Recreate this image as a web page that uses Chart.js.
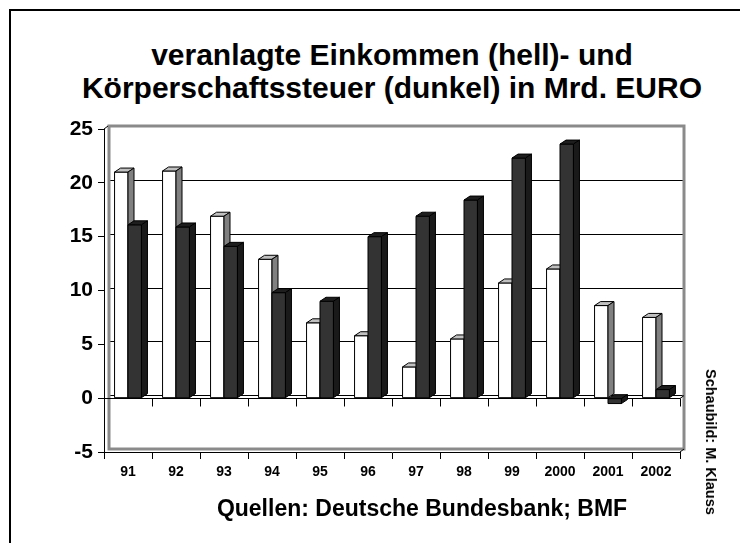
<!DOCTYPE html>
<html>
<head>
<meta charset="utf-8">
<script src="https://cdn.jsdelivr.net/npm/chart.js@4/dist/chart.umd.min.js"></script>
<style>
  body { margin: 0; background: #fff; }
  #wrap { position: relative; width: 740px; height: 543px; overflow: hidden; font-family: "Liberation Sans", Arial, sans-serif; }
  #frame { position: absolute; left: 9px; top: 9px; width: 760px; height: 560px; border-left: 2px solid #000; border-top: 2px solid #000; }
  #titel { position: absolute; left: 0; width: 784px; top: 38px; text-align: center; font-weight: bold; font-size: 30px; line-height: 33px; color: #000; }
  #quelle { position: absolute; left: 0; width: 844px; top: 495px; text-align: center; font-weight: bold; font-size: 23px; color: #000; }
  #autor { position: absolute; left: 711px; top: 442px; transform: translate(-50%, -50%) rotate(90deg); white-space: nowrap; font-weight: bold; font-size: 14.5px; color: #000; }
  canvas { position: absolute; left: 0; top: 0; }
</style>
</head>
<body>
<div id="wrap">
  <div id="frame"></div>
  <div id="titel">veranlagte Einkommen (hell)- und<br>Körperschaftssteuer (dunkel) in Mrd. EURO</div>
  <canvas id="chart" width="740" height="543"></canvas>
  <div id="quelle">Quellen: Deutsche Bundesbank; BMF</div>
  <div id="autor">Schaubild: M. Klauss</div>
</div>
<script>
// Daten (Mrd. EURO)
const jahre = ['91', '92', '93', '94', '95', '96', '97', '98', '99', '2000', '2001', '2002'];
const einkommensteuer = [21.0, 21.1, 16.9, 12.9, 7.0, 5.8, 2.9, 5.5, 10.7, 12.0, 8.6, 7.5];
const koerperschaftsteuer = [16.1, 15.9, 14.1, 9.8, 9.0, 15.0, 16.9, 18.4, 22.3, 23.6, -0.5, 0.8];
const yTicks = [-5, 0, 5, 10, 15, 20, 25];

const FONT = '"Liberation Sans", Arial, sans-serif';

// Farben der 3D-Flächen: [vorne, oben, seite]
const faces = [
    ['#ffffff', '#c0c0c0', '#808080'],
    ['#333333', '#1e1e1e', '#1a1a1a']
];

function drawBar3d(ctx, bar, col) {
    const dx = 6, dy = 4;
    const x1 = bar.x - bar.width / 2;
    const x2 = bar.x + bar.width / 2;
    const top = Math.min(bar.y, bar.base);
    const bottom = Math.max(bar.y, bar.base);
    // vorne
    ctx.fillStyle = col[0];
    ctx.fillRect(x1, top, x2 - x1, bottom - top);
    ctx.strokeRect(x1, top, x2 - x1, bottom - top);
    // oben
    ctx.fillStyle = col[1];
    ctx.beginPath();
    ctx.moveTo(x1, top);
    ctx.lineTo(x1 + dx, top - dy);
    ctx.lineTo(x2 + dx, top - dy);
    ctx.lineTo(x2, top);
    ctx.closePath();
    ctx.fill();
    ctx.stroke();
    // Seite
    ctx.fillStyle = col[2];
    ctx.beginPath();
    ctx.moveTo(x2, top);
    ctx.lineTo(x2 + dx, top - dy);
    ctx.lineTo(x2 + dx, bottom - dy);
    ctx.lineTo(x2, bottom);
    ctx.closePath();
    ctx.fill();
    ctx.stroke();
}

// Rückwand, Gitterlinien, Boden bei 0, 3D-Säulen
const wallPlugin = {
    id: 'wall3d',
    beforeDatasetsDraw(chart) {
        const ctx = chart.ctx;
        const a = chart.chartArea;
        const y = chart.scales.y;
        const x = chart.scales.x;
        const dx = 4, dy = -3;
        ctx.save();
        // Gitterlinien hinten
        ctx.strokeStyle = '#000';
        ctx.lineWidth = 1;
        yTicks.forEach(v => {
            if (v <= -5 || v >= 25) return;
            const py = Math.round(y.getPixelForValue(v) + dy) + 0.5;
            ctx.beginPath();
            ctx.moveTo(a.left + dx, py);
            ctx.lineTo(a.right + dx, py);
            ctx.stroke();
        });
        // Wandrahmen grau
        ctx.strokeStyle = '#8a8a8a';
        ctx.lineWidth = 3;
        ctx.strokeRect(a.left + dx + 1, a.top + dy, a.right - a.left - 1, a.bottom - a.top);
        // Ecke oben links
        ctx.lineWidth = 1;
        ctx.strokeStyle = '#000';
        ctx.beginPath();
        ctx.moveTo(a.left, a.top);
        ctx.lineTo(a.left + dx, a.top + dy);
        ctx.stroke();
        // Boden bei 0 vorne mit Strichen
        const y0 = Math.round(y.getPixelForValue(0)) + 0.5;
        ctx.beginPath();
        ctx.moveTo(a.left, y0);
        ctx.lineTo(a.right, y0);
        ctx.lineTo(a.right + dx, y0 + dy);
        for (let i = 0; i <= jahre.length; i++) {
            const px = Math.round(x.getPixelForValue(i - 0.5)) + 0.5;
            ctx.moveTo(px, y0);
            ctx.lineTo(px, y0 + 8);
        }
        ctx.stroke();
        // untere Ecke rechts
        ctx.beginPath();
        ctx.moveTo(a.right, a.bottom);
        ctx.lineTo(a.right + dx, a.bottom + dy);
        ctx.stroke();
        ctx.restore();
    },
    afterDatasetsDraw(chart) {
        const ctx = chart.ctx;
        const hell = chart.getDatasetMeta(0).data;
        const dunkel = chart.getDatasetMeta(1).data;
        ctx.save();
        ctx.strokeStyle = '#000';
        ctx.lineWidth = 1;
        ctx.lineJoin = 'round';
        // je Jahr erst hell, dann dunkel davor
        for (let i = 0; i < jahre.length; i++) {
            drawBar3d(ctx, hell[i], faces[0]);
            drawBar3d(ctx, dunkel[i], faces[1]);
        }
        ctx.restore();
    }
};

new Chart(document.getElementById('chart'), {
    type: 'bar',
    data: {
        labels: jahre,
        datasets: [
            {
                label: 'veranlagte Einkommensteuer',
                data: einkommensteuer,
                backgroundColor: 'rgba(0,0,0,0)',
                borderWidth: 0
            },
            {
                label: 'Körperschaftssteuer',
                data: koerperschaftsteuer,
                backgroundColor: 'rgba(0,0,0,0)',
                borderWidth: 0
            }
        ]
    },
    options: {
        responsive: false,
        animation: false,
        datasets: {
            bar: { categoryPercentage: 0.56, barPercentage: 1.0 }
        },
        layout: { padding: { left: 54, right: 60, top: 129, bottom: 61 } },
        plugins: {
            legend: { display: false },
            title: { display: false },
            tooltip: { enabled: false }
        },
        scales: {
            x: {
                grid: { offset: true, drawOnChartArea: false, drawTicks: true, tickLength: 7, color: '#000' },
                border: { display: true, color: '#000', width: 1 },
                ticks: { color: '#000', font: { family: FONT, size: 14, weight: 'bold' }, padding: 5, maxRotation: 0 },
                afterFit(s) { s.height = 30; }
            },
            y: {
                min: -5,
                max: 25,
                grid: { drawOnChartArea: false, drawTicks: true, tickLength: 6, color: '#000' },
                border: { display: true, color: '#000', width: 1 },
                ticks: { stepSize: 5, color: '#000', font: { family: FONT, size: 21, weight: 'bold' }, padding: 5 },
                afterFit(s) { s.width = 50; }
            }
        }
    },
    plugins: [wallPlugin]
});
</script>
</body>
</html>
